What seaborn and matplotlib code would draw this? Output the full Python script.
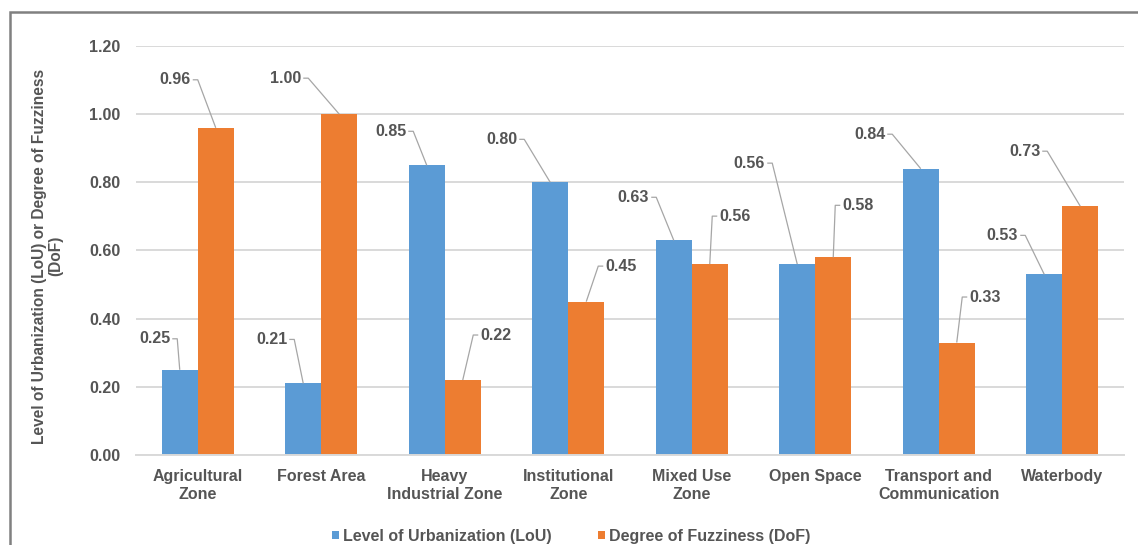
import matplotlib
matplotlib.use("Agg")
import matplotlib.pyplot as plt
from matplotlib.patches import Rectangle
import numpy as np
import pandas as pd
import seaborn as sns

# --- data -------------------------------------------------------------
categories = [
    "Agricultural\nZone", "Forest Area", "Heavy\nIndustrial Zone",
    "Institutional\nZone", "Mixed Use\nZone", "Open Space",
    "Transport and\nCommunication", "Waterbody",
]
lou = [0.25, 0.21, 0.85, 0.80, 0.63, 0.56, 0.84, 0.53]
dof = [0.96, 1.00, 0.22, 0.45, 0.56, 0.58, 0.33, 0.73]
series_names = ["Level of Urbanization (LoU)", "Degree of Fuzziness (DoF)"]
y_ticks = [0.0, 0.2, 0.4, 0.6, 0.8, 1.0, 1.2]

# callout placement for each value label (pixels from the bar top to the
# elbow of the leader line)
lou_offsets = [(-2.5, 31), (-9, 44), (-13.5, 34), (-26, 43),
               (-17.5, 43), (-25, 101), (-28.5, 34.5), (-19, 39)]
dof_offsets = [(-18, 48), (-31, 36), (10.5, 45), (12, 35.5),
               (2.5, 48), (2, 52), (5.5, 45.5), (-33, 55)]

# --- style ------------------------------------------------------------
sns.set_style("white")
plt.rcParams["font.family"] = ["Liberation Sans", "DejaVu Sans"]
plt.rcParams["font.weight"] = "bold"

TEXT = "#555555"
BLUE = "#5B9BD5"
ORANGE = "#ED7D31"
GRID = "#d9d9d9"
FS = 11.5

W, H = 1138, 545
fig = plt.figure(figsize=(W / 100, H / 100), dpi=100)
ax = fig.add_axes([136 / W, (H - 455) / H, (1124 - 136) / W, (455 - 46) / H])

df = pd.DataFrame({
    "category": categories * 2,
    "value": lou + dof,
    "series": [series_names[0]] * len(lou) + [series_names[1]] * len(dof),
})

sns.barplot(data=df, x="category", y="value", hue="series",
            hue_order=series_names, palette=[BLUE, ORANGE],
            width=0.583, gap=0, dodge=True, saturation=1,
            edgecolor="none", linewidth=0, ax=ax, zorder=2)

ax.set_ylim(0, 1.2)
ax.set_xlim(-0.5, len(categories) - 0.5)
ax.set_yticks(y_ticks)
ax.set_yticklabels([f"{t:.2f}" for t in y_ticks])
ax.yaxis.grid(True, color=GRID, linewidth=1.4, zorder=0)
ax.set_axisbelow(True)
for side in ["left", "right", "top"]:
    ax.spines[side].set_visible(False)
ax.spines["bottom"].set_color(GRID)
ax.spines["bottom"].set_linewidth(1.4)
ax.tick_params(axis="both", length=0, colors=TEXT, labelsize=FS)
ax.tick_params(axis="y", pad=11)
ax.tick_params(axis="x", pad=10)
for lab in ax.get_xticklabels() + ax.get_yticklabels():
    lab.set_fontweight("bold")
    lab.set_linespacing(1.25)
ax.set_xlabel("")
ax.set_ylabel("")

# --- value callouts with leader lines --------------------------------
to_disp = ax.transData.transform
to_data = ax.transData.inverted().transform
for container, offsets in zip(ax.containers, [lou_offsets, dof_offsets]):
    for bar, (dx, dy) in zip(container, offsets):
        x = bar.get_x() + bar.get_width() / 2
        v = bar.get_height()
        px, py = to_disp((x, v))
        sgn = 1 if dx > 0 else -1
        cx, cy = px + dx, py + dy
        pts = to_data([(px, py), (cx, cy), (cx + sgn * 5, cy)])
        ax.plot(pts[:, 0], pts[:, 1], color="#a6a6a6", linewidth=0.9,
                zorder=3, clip_on=False, solid_capstyle="butt")
        tx, ty = to_data((cx + sgn * 7, cy))
        ax.text(tx, ty, f"{v:.2f}", ha="left" if sgn > 0 else "right",
                va="center", fontsize=FS, fontweight="bold", color=TEXT,
                zorder=4)

# --- legend -----------------------------------------------------------
handles, labels = ax.get_legend_handles_labels()
if ax.get_legend() is not None:
    ax.get_legend().remove()
fig.legend(handles, labels, loc="center", bbox_to_anchor=(571 / W, 1 - 536 / H),
           ncol=2, frameon=False, labelcolor=TEXT,
           handlelength=0.45, handleheight=0.45, handletextpad=0.25,
           columnspacing=2.9, borderaxespad=0, borderpad=0,
           prop={"weight": "bold", "size": FS})

# --- axis title -------------------------------------------------------
fig.text(48 / W, 1 - 256 / H,
         "Level of Urbanization (LoU) or Degree of Fuzziness\n(DoF)",
         rotation=90, ha="center", va="center", fontsize=FS - 0.3,
         fontweight="bold", color=TEXT, multialignment="center",
         linespacing=1.1)

# --- outer frame ------------------------------------------------------
fig.patches.append(Rectangle((9.5 / W, -0.1), 1.2, 1.1 - 12 / H,
                             transform=fig.transFigure, fill=False,
                             edgecolor="#808080", linewidth=1.8, zorder=10))

fig.savefig("out.png", dpi=100, facecolor="white")
